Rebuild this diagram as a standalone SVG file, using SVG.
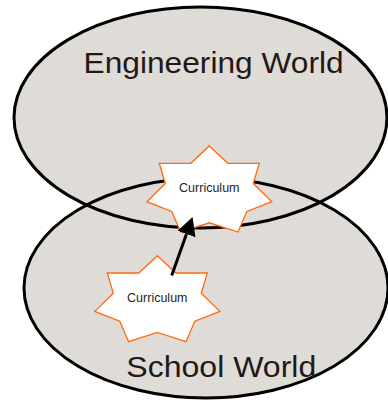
<svg xmlns="http://www.w3.org/2000/svg" width="388" height="400" viewBox="0 0 388 400">
<style>
.bg{fill:#dfdcd8;stroke:none}
.outline{fill:none;stroke:#000;stroke-width:3}
.world{font-family:"Liberation Sans",Arial,sans-serif;font-size:30px;fill:#231815}
.star{fill:#fff;stroke:#ff6a0e;stroke-width:1.3;stroke-linejoin:miter}
.label{font-family:"Liberation Sans",Arial,sans-serif;font-size:12.5px;fill:#231f20;text-anchor:middle}
.conn{stroke:#000;stroke-width:3;fill:none}
</style>
<defs>
<polygon id="star7" points="0,0 18.5,17.3 50,17.3 44,37.5 62.5,55.7 37.5,65.5 28.7,86 0,76.8 -28.7,86 -37.5,65.5 -62.5,55.7 -44,37.5 -50,17.3 -18.5,17.3"/>
<marker id="arrow" viewBox="0 0 18 19" refX="0" refY="9.5" markerWidth="18" markerHeight="19" markerUnits="userSpaceOnUse" orient="auto">
<path d="M0,0 L18,9.5 L0,19 z" fill="#000"/>
</marker>
</defs>
<g id="backgrounds">
<ellipse class="bg" cx="200.5" cy="117.5" rx="186.5" ry="110.5"/>
<ellipse class="bg" cx="206" cy="288" rx="182" ry="110"/>
</g>
<g id="engineering-world">
<ellipse class="outline" cx="200.5" cy="117.5" rx="186.5" ry="110.5"/>
<text class="world" x="83.6" y="73" textLength="260" lengthAdjust="spacingAndGlyphs">Engineering World</text>
</g>
<g id="school-world">
<ellipse class="outline" cx="206" cy="288" rx="182" ry="110"/>
<text class="world" x="126.3" y="376.7" textLength="190" lengthAdjust="spacingAndGlyphs">School World</text>
</g>
<g id="curriculum-engineering">
<use href="#star7" class="star" transform="translate(209.3,146)"/>
<text class="label" x="209.3" y="192.3">Curriculum</text>
</g>
<g id="curriculum-school">
<use href="#star7" class="star" transform="translate(157.3,255.7)"/>
<text class="label" x="157.3" y="301.7">Curriculum</text>
</g>
<g id="connectors">
<line class="conn" x1="171.7" y1="275.5" x2="186.5" y2="234" marker-end="url(#arrow)"/>
</g>
</svg>
